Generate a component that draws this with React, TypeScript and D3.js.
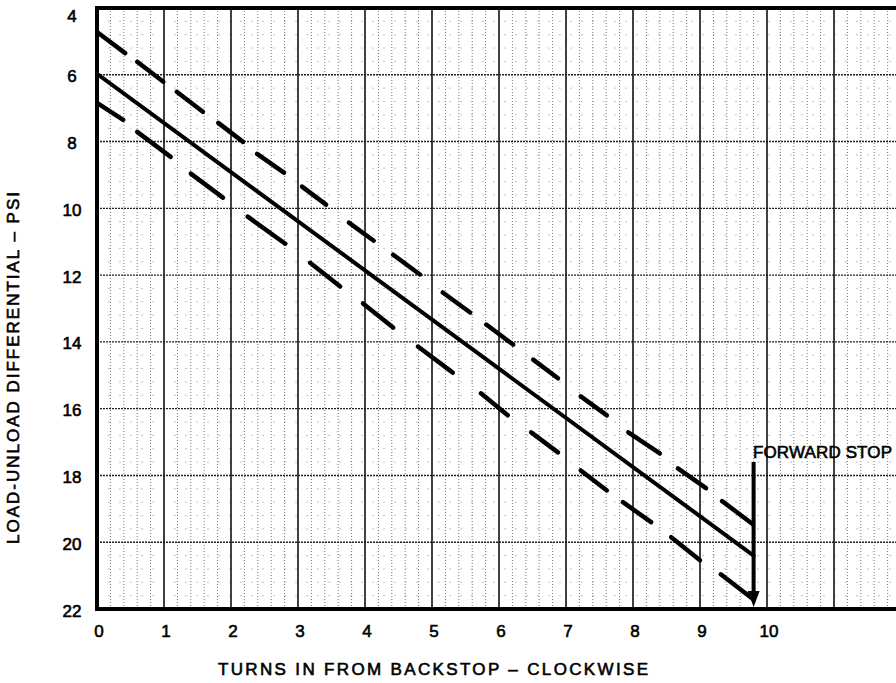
import React from 'react';
import * as d3 from 'd3';

// values (turns / psi)
const xTicks = [0, 1, 2, 3, 4, 5, 6, 7, 8, 9, 10];
const yTicks = [4, 6, 8, 10, 12, 14, 16, 18, 20, 22];

const solidTurns = [0, 9.8];
const solidPsi = [5.97, 20.4];

// upper limit, hand drawn dashes: [start, end]
const upperDashTurns = [[0.0, 0.42], [0.6, 0.99], [1.19, 1.58], [1.81, 2.18], [2.39, 2.79], [3.06, 3.42], [3.76, 4.13], [4.42, 4.82], [5.16, 5.57], [5.81, 6.21], [6.51, 6.88], [7.22, 7.61], [7.93, 8.4], [8.67, 9.09], [9.33, 9.79]];
const upperDashPsi = [[4.72, 5.35], [5.61, 6.21], [6.51, 7.11], [7.44, 8.01], [8.37, 8.93], [9.35, 9.89], [10.43, 10.97], [11.39, 11.98], [12.52, 13.12], [13.48, 14.08], [14.53, 15.09], [15.63, 16.2], [16.71, 17.34], [17.79, 18.38], [18.77, 19.46]];

// lower limit
const lowerDashTurns = [[0.0, 0.39], [0.6, 1.1], [1.4, 1.88], [2.25, 2.81], [3.18, 3.63], [3.97, 4.42], [4.79, 5.31], [5.73, 6.13], [6.48, 6.88], [7.22, 7.61], [7.85, 8.27], [8.57, 9.0], [9.31, 9.79]];
const lowerDashPsi = [[6.84, 7.35], [7.71, 8.46], [8.96, 9.68], [10.25, 11.06], [11.63, 12.34], [12.85, 13.57], [14.14, 14.92], [15.54, 16.2], [16.71, 17.31], [17.85, 18.45], [18.8, 19.4], [19.85, 20.54], [20.96, 21.7]];

const stopTurns = 9.8;
const stopPsi = [17.6, 22];

const W = 896;
const H = 683;
const FONT = '"Liberation Sans", Arial, sans-serif';

export default function App() {
  const x = d3.scaleLinear().domain([0, 12]).range([97, 901]);
  const y = d3.scaleLinear().domain([4, 22]).range([8, 609]);
  const left = x(0);
  const right = W;
  const top = y(4);
  const bottom = y(22);

  const line = d3.line<[number, number]>().x((d) => x(d[0])).y((d) => y(d[1]));

  const vMinor = d3.range(0, 12.01, 0.2).filter((v) => Math.abs(v - Math.round(v)) > 0.01);
  const vMajor = d3.range(1, 13, 1);
  const hMinor = d3.range(4, 22.01, 0.4).filter((v) => Math.abs(v / 2 - Math.round(v / 2)) > 0.01);
  const hMajor = d3.range(6, 22, 2);

  const dashes = (tx: number[][], ty: number[][]) =>
    tx.map((t, i) => line([[t[0], ty[i][0]], [t[1], ty[i][1]]]) as string);

  const sx = x(stopTurns);

  return (
    <svg width={W} height={H} style={{ position: 'absolute', left: 0, top: 0, background: '#fff' }}>
      <defs>
        <clipPath id="plot">
          <rect x={left} y={top} width={right - left} height={bottom - top} />
        </clipPath>
      </defs>
      <g clipPath="url(#plot)">
        {hMinor.map((v) => (
          <line key={'hm' + v} x1={left} x2={right} y1={y(v)} y2={y(v)} stroke="#aaa" strokeWidth={0.7} strokeDasharray="2,9" />
        ))}
        {vMinor.map((v) => (
          <line key={'vm' + v} x1={x(v)} x2={x(v)} y1={top} y2={bottom} stroke="#555" strokeWidth={0.8} strokeDasharray="1,2" />
        ))}
        {hMajor.map((v) => (
          <line key={'hM' + v} x1={left} x2={right} y1={y(v)} y2={y(v)} stroke="#222" strokeWidth={1.4} strokeDasharray="2,1" />
        ))}
        {vMajor.map((v) => (
          <line key={'vM' + v} x1={x(v)} x2={x(v)} y1={top} y2={bottom} stroke="#111" strokeWidth={1.6} />
        ))}

        {dashes(upperDashTurns, upperDashPsi).map((d, i) => (
          <path key={'u' + i} d={d} stroke="#000" strokeWidth={4.5} fill="none" strokeLinecap="round" />
        ))}
        {dashes(lowerDashTurns, lowerDashPsi).map((d, i) => (
          <path key={'l' + i} d={d} stroke="#000" strokeWidth={4.5} fill="none" strokeLinecap="round" />
        ))}
        <path
          d={line(solidTurns.map((t, i) => [t, solidPsi[i]]) as [number, number][]) as string}
          stroke="#000"
          strokeWidth={4}
          fill="none"
          strokeLinecap="round"
        />

        {/* forward stop arrow */}
        <line x1={sx} x2={sx} y1={y(stopPsi[0])} y2={y(stopPsi[1]) - 12} stroke="#000" strokeWidth={4} />
        <path d={`M${sx - 6},${y(stopPsi[1]) - 18} L${sx + 6},${y(stopPsi[1]) - 18} L${sx},${y(stopPsi[1]) - 2} Z`} fill="#000" />
      </g>

      {/* frame */}
      <line x1={left} x2={right} y1={top} y2={top} stroke="#000" strokeWidth={4} />
      <line x1={left} x2={right} y1={bottom} y2={bottom} stroke="#000" strokeWidth={4} />
      <line x1={left} x2={left} y1={top - 2} y2={bottom + 2} stroke="#000" strokeWidth={4} />

      <g fontFamily={FONT} fontSize={17} fill="#000" stroke="#000" strokeWidth={0.6}>
        {yTicks.map((v) => (
          <text key={'yt' + v} x={72} y={Math.max(y(v) + 2, 16)} textAnchor="middle" dominantBaseline="central">
            {v}
          </text>
        ))}
        {xTicks.map((v) => (
          <text key={'xt' + v} x={x(v) + 2} y={637} textAnchor="middle">
            {v}
          </text>
        ))}
        <text x={433} y={675} textAnchor="middle" fontSize={17} textLength={430} lengthAdjust="spacing">
          TURNS  IN  FROM  BACKSTOP – CLOCKWISE
        </text>
        <text
          transform={`translate(19,368) rotate(-90)`}
          textAnchor="middle"
          fontSize={17}
          textLength={352}
          lengthAdjust="spacing"
        >
          LOAD-UNLOAD  DIFFERENTIAL – PSI
        </text>
        <text x={753} y={458} fontSize={17} textLength={139} lengthAdjust="spacing">
          FORWARD STOP
        </text>
      </g>
    </svg>
  );
}
